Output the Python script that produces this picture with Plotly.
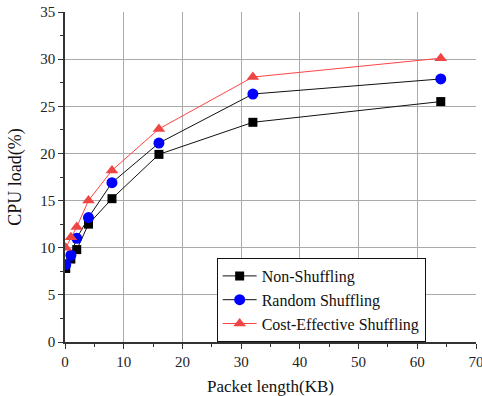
import plotly.graph_objects as go

packet_kb = [0.125, 1, 2, 4, 8, 16, 32, 64]
non_shuffling = [7.8, 8.8, 9.8, 12.5, 15.2, 19.9, 23.3, 25.5]
random_shuffling = [8.2, 9.2, 11.0, 13.2, 16.9, 21.1, 26.3, 27.9]
cost_effective = [10.0, 11.1, 12.2, 15.0, 18.2, 22.6, 28.1, 30.1]

font = "Liberation Serif"

fig = go.Figure()
fig.add_trace(go.Scatter(x=packet_kb, y=non_shuffling, name="Non-Shuffling",
                         mode="lines+markers",
                         line=dict(color="#111111", width=1),
                         marker=dict(symbol="square", size=9, color="#000000")))
fig.add_trace(go.Scatter(x=packet_kb, y=random_shuffling, name="Random Shuffling",
                         mode="lines+markers",
                         line=dict(color="#111111", width=1),
                         marker=dict(symbol="circle", size=11, color="#0000ff")))
fig.add_trace(go.Scatter(x=packet_kb, y=cost_effective, name="Cost-Effective Shuffling",
                         mode="lines+markers",
                         line=dict(color="#ff4444", width=1),
                         marker=dict(symbol="triangle-up", size=11, color="#f04545")))

axis_common = dict(showline=True, linecolor="#333333", linewidth=1.5,
                   ticks="outside", ticklen=5, tickcolor="#333333",
                   showgrid=True, gridcolor="#aaaaaa", gridwidth=1,
                   zeroline=False, tickfont=dict(family=font, size=15, color="#222222"),
                   ticklabeloverflow="allow", mirror=False, automargin=False)

fig.update_xaxes(range=[0, 70], dtick=10, tick0=0,
                 minor=dict(dtick=5, ticks="outside", ticklen=3, tickcolor="#333333", showgrid=False),
                 title=dict(text="Packet length(KB)", font=dict(family=font, size=17, color="#111111"), standoff=12),
                 **axis_common)
fig.update_yaxes(range=[0, 35], dtick=5, tick0=0,
                 minor=dict(dtick=2.5, ticks="outside", ticklen=3, tickcolor="#333333", showgrid=False),
                 title=dict(text="CPU load(%)", font=dict(family=font, size=18, color="#111111"), standoff=14),
                 **axis_common)

fig.update_layout(
    width=482, height=396,
    margin=dict(l=65, r=6, t=12, b=54),
    plot_bgcolor="white", paper_bgcolor="white",
    legend=dict(x=0.369, y=0, xanchor="left", yanchor="bottom",
                bordercolor="#111111", borderwidth=1, bgcolor="white",
                font=dict(family=font, size=16, color="#111111"),
                tracegroupgap=0, itemwidth=34),
    showlegend=True,
)

fig.write_html("out.html")
